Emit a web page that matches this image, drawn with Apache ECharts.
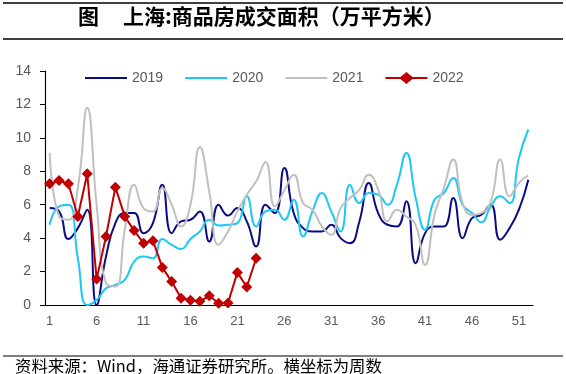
<!DOCTYPE html>
<html>
<head>
<meta charset="utf-8">
<script src="https://cdn.jsdelivr.net/npm/echarts@6/dist/echarts.min.js"></script>
<style>
html,body{margin:0;padding:0;background:#fff;}
#c{width:566px;height:374px;}
</style>
</head>
<body>
<div id="c"></div>
<script>
var weeks = [];
for (var i = 1; i <= 52; i++) weeks.push(String(i));

var s2019 = [5.8,5.6,3.95,4.6,5.7,0.0,2.9,4.9,5.5,5.5,4.3,4.9,7.2,4.3,5.0,5.1,5.6,3.8,6.0,5.35,5.8,5.0,3.5,6.0,5.5,8.2,5.5,4.6,4.4,4.4,4.8,4.0,3.7,5.0,7.3,5.5,4.8,4.7,6.2,2.5,4.3,4.7,4.7,6.4,4.0,5.2,5.4,6.0,3.9,4.6,5.7,7.5];
var s2020 = [4.8,5.9,6.0,2.8,0.0,0.3,1.0,1.2,1.5,2.6,2.9,2.8,3.95,3.6,3.35,3.95,4.4,5.1,4.75,4.8,4.9,6.5,4.7,5.6,5.7,5.1,6.3,4.1,5.6,6.7,5.6,4.4,7.2,6.1,6.7,6.6,6.0,7.2,9.1,6.4,4.5,6.3,6.7,7.6,6.0,5.5,4.95,5.9,6.5,6.1,8.8,10.5];
var s2021 = [9.1,5.3,5.1,7.0,11.8,6.0,1.3,1.1,4.5,7.2,5.8,5.6,7.0,6.0,4.7,6.0,9.45,6.8,3.6,4.4,5.6,6.6,7.4,8.55,5.9,6.85,7.8,6.1,5.7,4.7,4.2,5.8,6.4,6.9,7.8,6.9,5.0,5.7,5.3,4.8,2.4,5.4,7.0,8.7,6.1,5.4,5.5,6.2,8.7,6.5,7.3,7.75];
var s2022 = [7.25,7.45,7.25,5.3,7.85,1.55,4.1,7.05,5.3,4.45,3.7,3.85,2.25,1.4,0.4,0.28,0.22,0.55,0.1,0.12,1.95,1.08,2.8];

var yTicks = [0,2,4,6,8,10,12,14];
var seriesNames = ['2019','2020','2021','2022'];

var lineIcon = 'path://M0,0 L0.001,0 L0.001,0.001 Z M0,5.1 L42,5.1 L42,6.9 L0,6.9 Z M0,12 L0.001,12 L0.001,11.999 Z';
var lineDiamondIcon = 'path://M0,5.1 L15,5.1 L21,0 L27,5.1 L42,5.1 L42,6.9 L27,6.9 L21,12 L15,6.9 L0,6.9 Z';

var chart = echarts.init(document.getElementById('c'), null, {renderer:'canvas'});
var axisFont = 'Liberation Sans, Arial, sans-serif';
chart.setOption({
  animation:false,
  backgroundColor:'#ffffff',
  grid:{left:45,right:33,top:71,bottom:69,containLabel:false},
  legend:{
    data:[
      {name:seriesNames[0],icon:lineIcon},
      {name:seriesNames[1],icon:lineIcon},
      {name:seriesNames[2],icon:lineIcon},
      {name:seriesNames[3],icon:lineDiamondIcon}
    ],
    left:80, top:66,
    itemWidth:42, itemHeight:12, itemGap:22,
    textStyle:{fontSize:14,color:'#595959',fontFamily:axisFont}
  },
  xAxis:{
    type:'category',
    data:weeks,
    boundaryGap:true,
    axisLine:{lineStyle:{color:'#000',width:1.2}},
    axisTick:{interval:4,length:5,lineStyle:{color:'#000'}},
    axisLabel:{interval:4,margin:10,fontSize:13,color:'#595959',fontFamily:axisFont}
  },
  yAxis:{
    type:'value',
    min:yTicks[0], max:yTicks[yTicks.length-1], interval:2,
    axisLine:{show:true,lineStyle:{color:'#000',width:1.2}},
    axisTick:{show:true,length:5,lineStyle:{color:'#000'}},
    splitLine:{show:false},
    axisLabel:{margin:14,fontSize:14,color:'#595959',fontFamily:axisFont}
  },
  series:[
    {name:'2019',type:'line',data:s2019,smooth:0.5,symbol:'none',lineStyle:{color:'#0b0b85',width:2},itemStyle:{color:'#0b0b85'}},
    {name:'2020',type:'line',data:s2020,smooth:0.5,symbol:'none',lineStyle:{color:'#1cc8f5',width:2},itemStyle:{color:'#1cc8f5'}},
    {name:'2021',type:'line',data:s2021,smooth:0.5,symbol:'none',lineStyle:{color:'#c0c0c0',width:2},itemStyle:{color:'#c0c0c0'}},
    {name:'2022',type:'line',data:s2022,smooth:false,symbol:'diamond',symbolSize:11,showAllSymbol:true,lineStyle:{color:'#c00000',width:2},itemStyle:{color:'#c00000'},z:5}
  ],
  graphic:[
    {type:'line',shape:{x1:3,y1:3,x2:563,y2:3},style:{stroke:'#000',lineWidth:1.5}},
    {type:'text',left:78,top:6,style:{text:'图',font:'bold 21px "Noto Sans CJK SC"',fill:'#000'}},
    {type:'text',left:123,top:6,style:{text:'上海:商品房成交面积（万平方米）',font:'bold 21px "Noto Sans CJK SC"',fill:'#000'}},
    {type:'line',shape:{x1:3,y1:39,x2:563,y2:39},style:{stroke:'#000',lineWidth:1.5}},
    {type:'line',shape:{x1:3,y1:356,x2:563,y2:356},style:{stroke:'#000',lineWidth:1.2}},
    {type:'text',left:15,top:358,style:{text:'资料来源：Wind，海通证券研究所。横坐标为周数',font:'16.4px "Noto Sans CJK SC"',fill:'#000'}}
  ]
});
</script>
</body>
</html>
